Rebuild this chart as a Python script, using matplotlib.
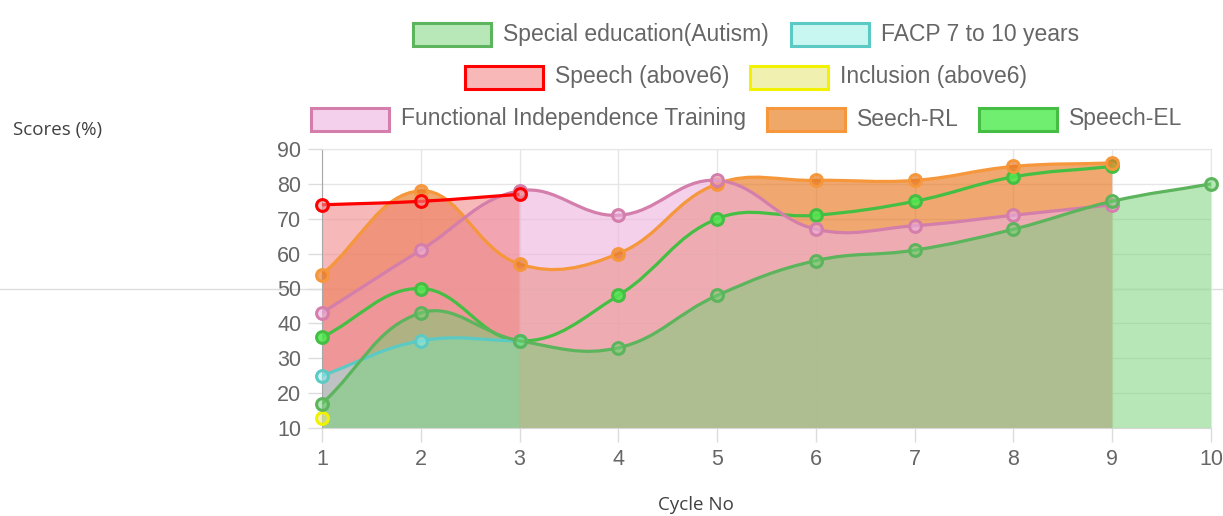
import matplotlib
matplotlib.use("Agg")
import matplotlib.pyplot as plt
import matplotlib.transforms as mtransforms
from matplotlib.path import Path
from matplotlib.patches import PathPatch, Rectangle
from matplotlib.lines import Line2D
import numpy as np

# data
cycles = [1, 2, 3, 4, 5, 6, 7, 8, 9, 10]
special_ed = [17, 43, 35, 33, 48, 58, 61, 67, 75, 80]
facp = [25, 35, 35]
speech = [74, 75, 77]
inclusion = [13]
fit = [43, 61, 78, 71, 81, 67, 68, 71, 74]
seech_rl = [54, 78, 57, 60, 80, 81, 81, 85, 86]
speech_el = [36, 50, 35, 48, 70, 71, 75, 82, 85]

labels = ["Special education(Autism)", "FACP 7 to 10 years", "Speech (above6)",
          "Inclusion (above6)", "Functional Independence Training", "Seech-RL", "Speech-EL"]
values = [special_ed, facp, speech, inclusion, fit, seech_rl, speech_el]
borders = ["#5cb45c", "#5ccac4", "#ff0000", "#f2f200", "#d47eac", "#f5973a", "#44bf44"]
fills = [(113/255, 209/255, 113/255, 0.5), (142/255, 238/255, 238/255, 0.5),
         (241/255, 135/255, 135/255, 0.59), (230/255, 230/255, 140/255, 0.6),
         (237/255, 177/255, 223/255, 0.6), (232/255, 121/255, 35/255, 0.65),
         (80/255, 232/255, 80/255, 0.85)]
legend_fills = ["#b8e8b8", "#c8f6f0", "#f8b8b8", "#f0f0b0", "#f4d0ec", "#f0a868", "#70ee70"]
do_fill = [True, True, True, True, True, True, False]

W, H = 1223, 516
SX, SY = 98.8, 3.4875  # px per unit, for chart.js-like spline tension


def spline(xs, ys, t=0.4):
    px = np.asarray(xs, float) * SX
    py = np.asarray(ys, float) * SY
    n = len(px)
    verts = [(xs[0], ys[0])]
    codes = [Path.MOVETO]
    cp_prev, cp_next = [], []
    for i in range(n):
        a, c = max(i - 1, 0), min(i + 1, n - 1)
        d01 = np.hypot(px[i] - px[a], py[i] - py[a])
        d12 = np.hypot(px[c] - px[i], py[c] - py[i])
        tot = d01 + d12
        s01 = d01 / tot if tot else 0
        s12 = d12 / tot if tot else 0
        dx, dy = px[c] - px[a], py[c] - py[a]
        cp_prev.append((px[i] - t * s01 * dx, py[i] - t * s01 * dy))
        cp_next.append((px[i] + t * s12 * dx, py[i] + t * s12 * dy))
    for i in range(1, n):
        c1, c2 = cp_next[i - 1], cp_prev[i]
        verts += [(c1[0] / SX, min(c1[1] / SY, 90)), (c2[0] / SX, min(c2[1] / SY, 90)), (xs[i], ys[i])]
        codes += [Path.CURVE4] * 3
    return verts, codes


fig = plt.figure(figsize=(W / 100, H / 100), dpi=100)
ax = fig.add_axes([322 / W, 1 - 428 / H, (1211 - 322) / W, (428 - 149) / H])
ax.set_xlim(1, 10)
ax.set_ylim(10, 90)

n = len(values)
# fills first, last dataset at the bottom
for k in range(n - 1, -1, -1):
    ys = values[k]
    xs = cycles[:len(ys)]
    if not do_fill[k] or len(ys) < 2:
        continue
    v, c = spline(xs, ys)
    v = v + [(xs[-1], 0), (xs[0], 0), (xs[0], ys[0])]
    c = c + [Path.LINETO, Path.LINETO, Path.CLOSEPOLY]
    ax.add_patch(PathPatch(Path(v, c), facecolor=fills[k], edgecolor="none", zorder=2 + (n - k) * 0.01))

for k in range(n - 1, -1, -1):
    ys = values[k]
    xs = cycles[:len(ys)]
    z = 4 + (n - k) * 0.1
    if len(ys) > 1:
        v, c = spline(xs, ys)
        ax.add_patch(PathPatch(Path(v, c), facecolor="none", edgecolor=borders[k], lw=2.3, zorder=z))
    ax.plot(xs, ys, "o", ms=8.5, mfc=fills[k], mec=borders[k], mew=2.2, zorder=z + 0.05, clip_on=False)

ax.set_xticks(cycles)
ax.set_yticks(range(10, 91, 10))
ax.grid(True, color="#e6e6e6", lw=1)
ax.set_axisbelow(True)
ax.tick_params(length=10, width=1, color="#dcdcdc", pad=5, labelsize=15.5, labelcolor="#666666")
for lab in ax.get_xticklabels() + ax.get_yticklabels():
    lab.set_fontfamily("Liberation Sans")
ax.spines["left"].set_color("#a8a8a8")
ax.spines["bottom"].set_color("#d6d6d6")
for s in ("top", "right"):
    ax.spines[s].set_color("#e6e6e6")

# long grey line across the whole picture at 50
trans = mtransforms.blended_transform_factory(fig.transFigure, ax.transData)
ax.add_line(Line2D([0, 1], [50, 50], transform=trans, color="#dddddd", lw=1, clip_on=False, zorder=0.5))

fig.text(13 / W, 1 - 130 / H, "Scores (%)", fontsize=13.5, family="Open Sans", color="#404040", va="center", ha="left")
fig.text(696 / W, 1 - 505 / H, "Cycle No", fontsize=13.5, family="Open Sans", color="#404040", va="center", ha="center")

# legend, three centred rows
legend_pos = [(413, 34), (791, 34), (465, 77), (750, 77), (311, 119), (767, 119), (979, 119)]
bw, bh = 78, 23
for k, (lx, ly) in enumerate(legend_pos):
    fig.add_artist(Rectangle((lx / W, 1 - (ly + bh / 2) / H), bw / W, bh / H, transform=fig.transFigure,
                             facecolor=legend_fills[k], edgecolor=borders[k], lw=2.2))
    fig.text((lx + bw + 12) / W, 1 - ly / H, labels[k], fontsize=16.5, family="Liberation Sans",
             color="#666666", va="center", ha="left")

fig.savefig("out.png", dpi=100)
